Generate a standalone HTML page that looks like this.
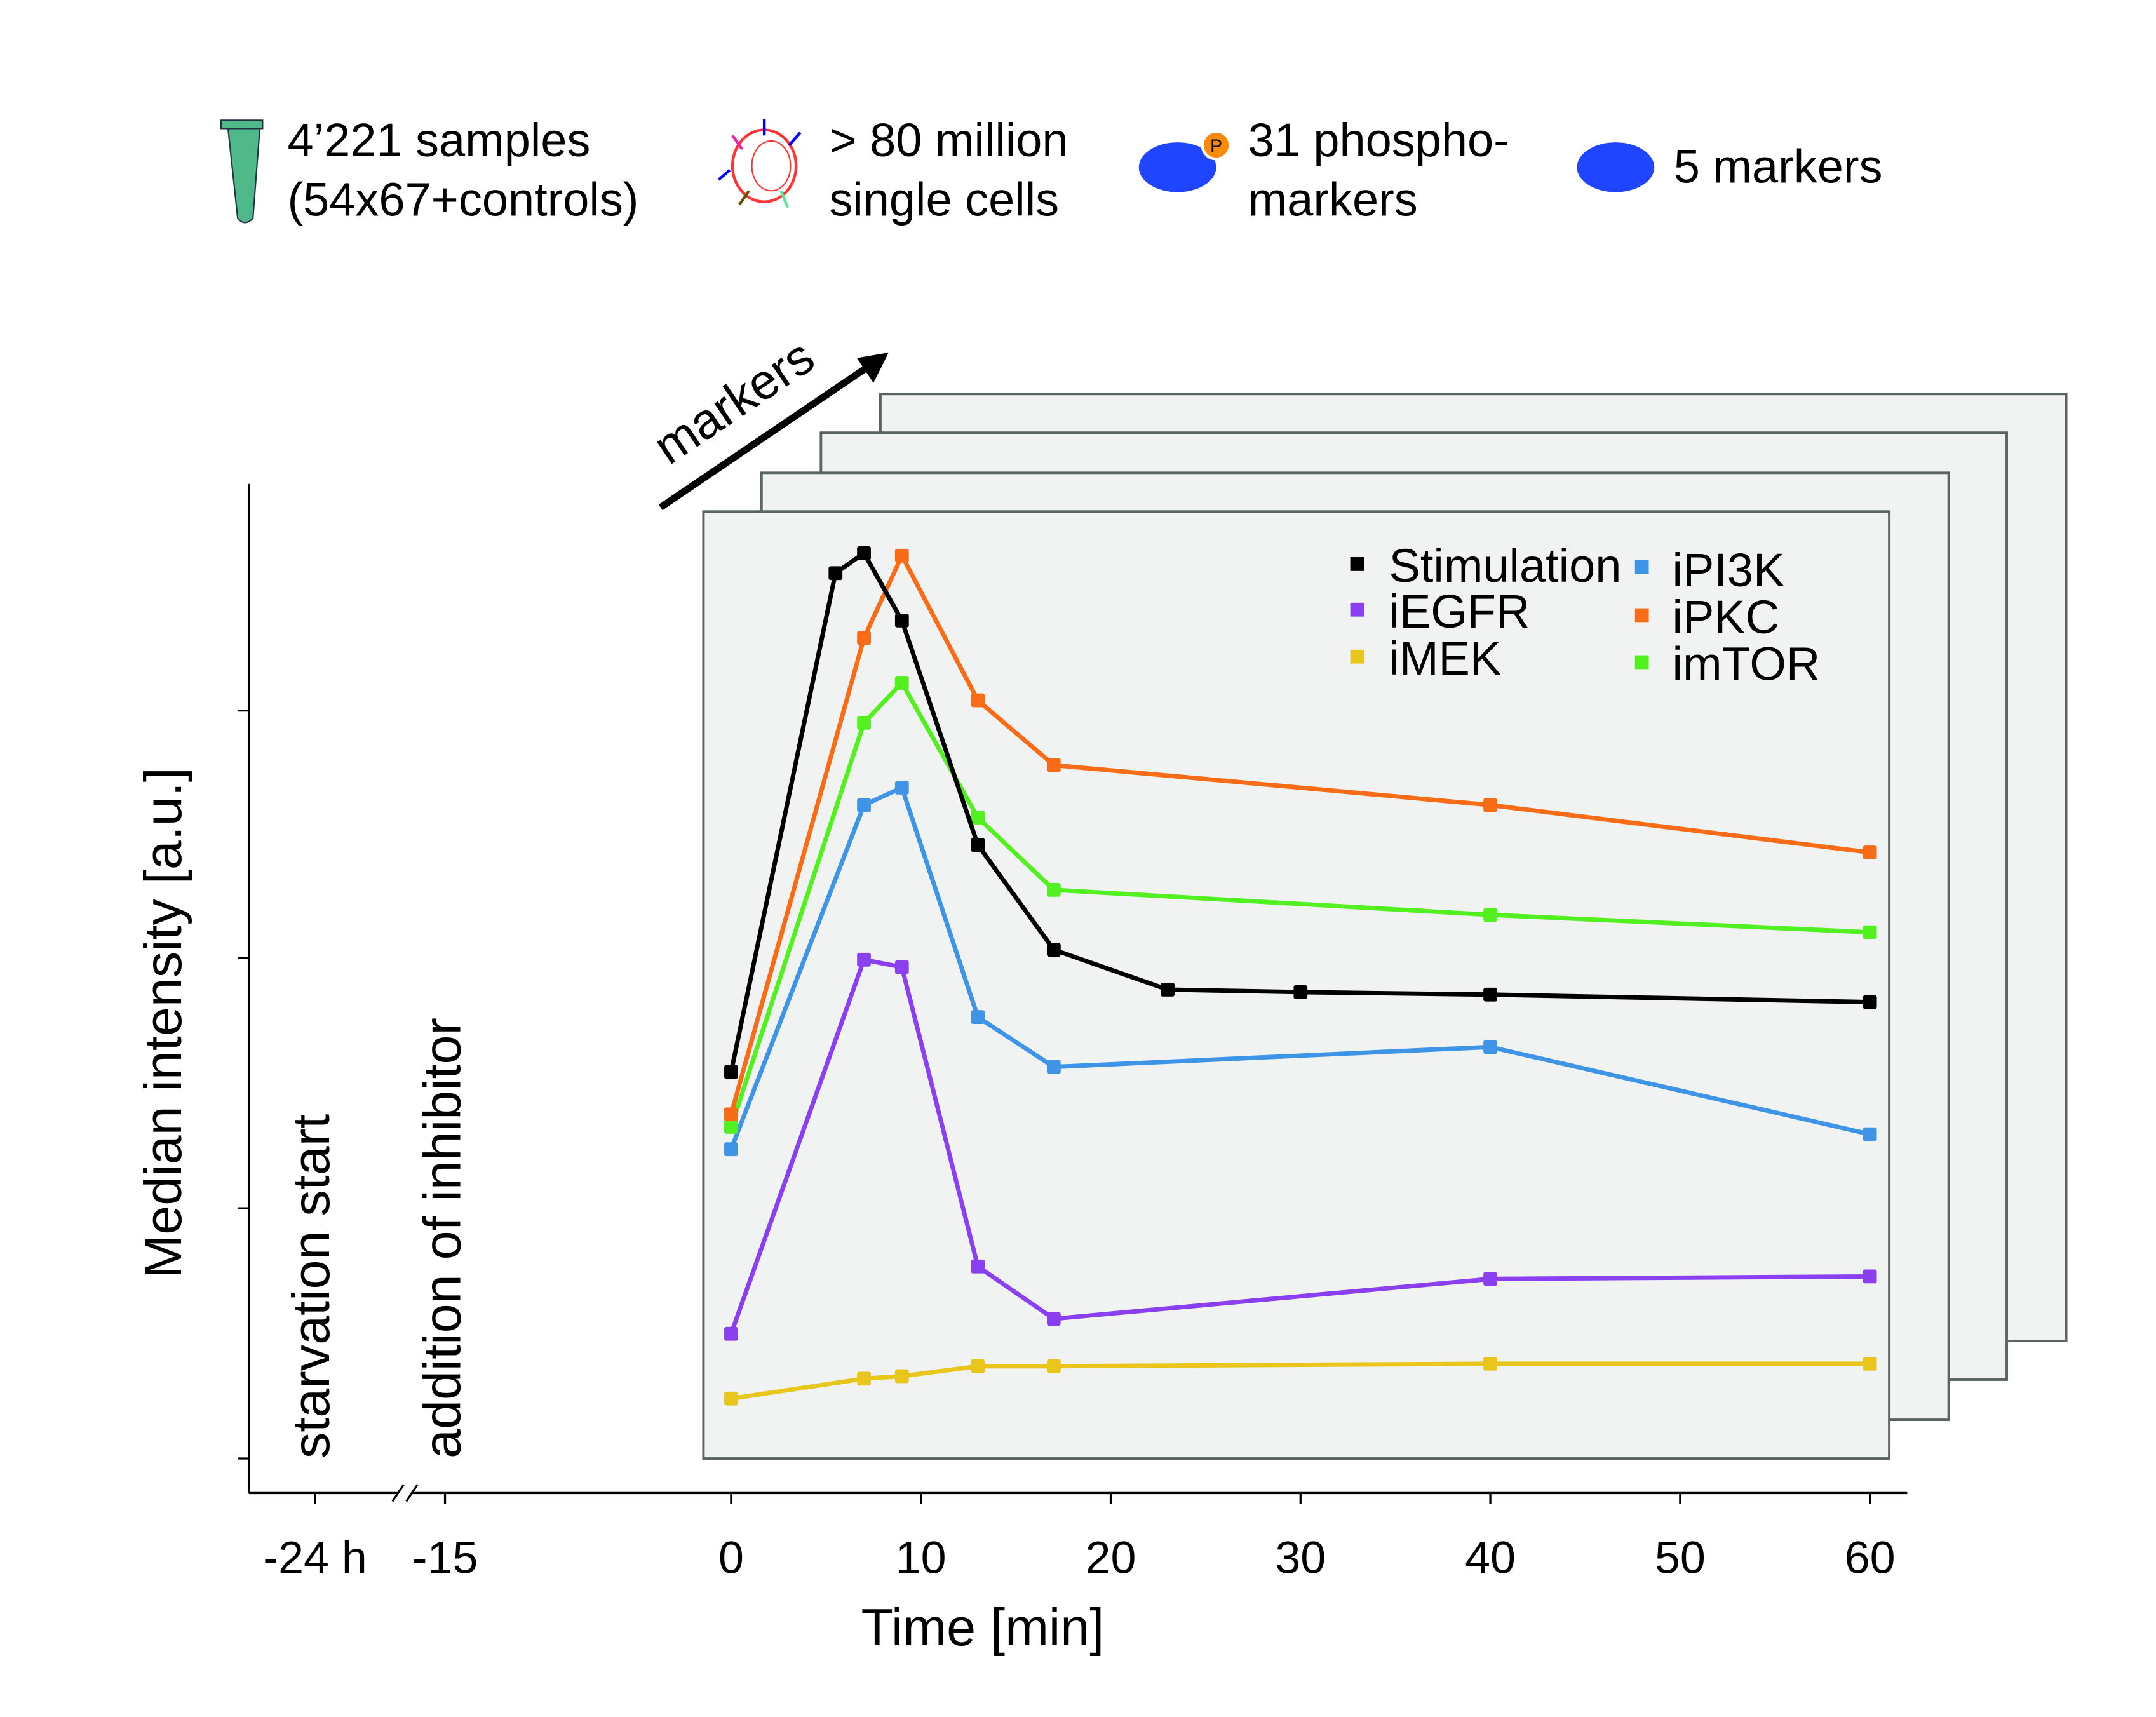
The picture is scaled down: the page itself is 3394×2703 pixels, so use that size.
<!DOCTYPE html>
<html><head><meta charset="utf-8"><style>html,body{margin:0;padding:0;background:#fff}svg{display:block}text{font-family:"Liberation Sans",sans-serif;fill:#000}</style></head>
<body>
<svg width="3394" height="2703" viewBox="0 0 1560 1242" preserveAspectRatio="none">
<g>
 <g><rect x="160" y="87" width="30" height="6" fill="#4fb98a" stroke="#234" stroke-width="1"/><path d="M165 93 L188 93 L183 158 Q177 164 172 158 Z" fill="#4fb98a" stroke="#234" stroke-width="1"/></g>
 <text x="208" y="113" font-size="34">4’221 samples</text>
 <text x="208" y="156" font-size="34">(54x67+controls)</text>
 <g><ellipse cx="553" cy="120" rx="23" ry="26" fill="none" stroke="#f33" stroke-width="2"/><ellipse cx="558" cy="120" rx="14" ry="18" fill="none" stroke="#f33" stroke-width="1"/><line x1="553" y1="86" x2="553" y2="98" stroke="#00f" stroke-width="2"/><line x1="530" y1="98" x2="537" y2="108" stroke="#e2a" stroke-width="2"/><line x1="571" y1="105" x2="579" y2="96" stroke="#00f" stroke-width="2"/><line x1="520" y1="130" x2="528" y2="123" stroke="#00f" stroke-width="2"/><line x1="535" y1="148" x2="542" y2="138" stroke="#650" stroke-width="2"/><line x1="565" y1="138" x2="570" y2="150" stroke="#5e9" stroke-width="2"/></g>
 <text x="600" y="113" font-size="34">&gt; 80 million</text>
 <text x="600" y="156" font-size="34">single cells</text>
 <ellipse cx="852" cy="121" rx="28" ry="18" fill="#1f45ff"/>
 <circle cx="880" cy="105" r="10" fill="#f98a0c" stroke="#fff" stroke-width="2"/>
 <text x="880" y="110" font-size="13" text-anchor="middle">P</text>
 <text x="903" y="113" font-size="34">31 phospho-</text>
 <text x="903" y="156" font-size="34">markers</text>
 <ellipse cx="1169" cy="121" rx="28" ry="18" fill="#1f45ff"/>
 <text x="1211" y="132" font-size="34">5 markers</text>
</g>
<g>
 <line x1="478" y1="367" x2="630" y2="264" stroke="#000" stroke-width="5"/>
 <polygon points="643,255 620,259 632,277" fill="#000"/>
 <text x="0" y="0" font-size="36" transform="translate(484,337) rotate(-34)">markers</text>
</g>
<g fill="#f0f3f2" stroke="#5a6461" stroke-width="1.8">
 <rect x="637" y="285" width="858" height="685"/>
 <rect x="594" y="313" width="858" height="685"/>
 <rect x="551" y="342" width="859" height="685"/>
 <rect x="509" y="370" width="858" height="685"/>
</g>
<g stroke="#000" stroke-width="1.5" fill="none">
 <line x1="180" y1="350" x2="180" y2="1080"/>
 <line x1="172" y1="514" x2="180" y2="514"/><line x1="172" y1="693" x2="180" y2="693"/><line x1="172" y1="874" x2="180" y2="874"/><line x1="172" y1="1055" x2="180" y2="1055"/>
 <line x1="180" y1="1080" x2="288" y2="1080"/>
 <line x1="298" y1="1080" x2="1380" y2="1080"/>
 <line x1="284" y1="1086" x2="292" y2="1074"/><line x1="294" y1="1086" x2="302" y2="1074"/>
 <line x1="228" y1="1080" x2="228" y2="1088"/><line x1="322" y1="1080" x2="322" y2="1088"/>
</g>
<g id="xticks"></g>
<text x="228" y="1138" font-size="33" text-anchor="middle">-24 h</text>
<text x="322" y="1138" font-size="33" text-anchor="middle">-15</text>
<text x="711" y="1190" font-size="38" text-anchor="middle">Time [min]</text>
<text transform="translate(131,740) rotate(-90)" font-size="38" text-anchor="middle">Median intensity [a.u.]</text>
<text transform="translate(238,1055) rotate(-90)" font-size="38">starvation start</text>
<text transform="translate(333,1055) rotate(-90)" font-size="38">addition of inhibitor</text>
<g id="series"></g>
<g>
 <rect x="977" y="403" width="10" height="10" fill="#000"/><text x="1005" y="421" font-size="34">Stimulation</text>
 <rect x="977" y="436" width="10" height="10" fill="#8a3ff0"/><text x="1005" y="454" font-size="34">iEGFR</text>
 <rect x="977" y="470" width="10" height="10" fill="#e8c61c"/><text x="1005" y="488" font-size="34">iMEK</text>
 <rect x="1183" y="405" width="10" height="10" fill="#3f94e6"/><text x="1210" y="424" font-size="34">iPI3K</text>
 <rect x="1183" y="440" width="10" height="10" fill="#f86c18"/><text x="1210" y="458" font-size="34">iPKC</text>
 <rect x="1183" y="474" width="10" height="10" fill="#52f020"/><text x="1210" y="492" font-size="34">imTOR</text>
</g>
</svg>
<script>
const xTickValues=[0,10,20,30,40,50,60];
const stimTimes=[0,5.5,7,9,13,17,23,30,40,60];
const stimValues=[1.55,3.55,3.63,3.36,2.46,2.04,1.88,1.87,1.86,1.83];
const inhTimes=[0,7,9,13,17,40,60];
const ipkcValues=[1.38,3.29,3.62,3.04,2.78,2.62,2.43];
const imtorValues=[1.33,2.95,3.11,2.57,2.28,2.18,2.11];
const ipi3kValues=[1.24,2.62,2.69,1.77,1.57,1.65,1.30];
const iegfrValues=[0.50,2.00,1.97,0.77,0.56,0.72,0.73];
const imekValues=[0.24,0.32,0.33,0.37,0.37,0.38,0.38];
const NS='http://www.w3.org/2000/svg';
const xs=t=>529+t*(1353-529)/60;
const ys=v=>1055-v*180.4;
const tg=document.getElementById('xticks');
xTickValues.forEach(t=>{
 const l=document.createElementNS(NS,'line');
 l.setAttribute('x1',xs(t));l.setAttribute('x2',xs(t));l.setAttribute('y1',1080);l.setAttribute('y2',1088);
 l.setAttribute('stroke','#000');l.setAttribute('stroke-width','1.5');
 
 
 tg.appendChild(l);
 const tx=document.createElementNS(NS,'text');
 tx.setAttribute('x',xs(t));tx.setAttribute('y',1138);tx.setAttribute('font-size','33');tx.setAttribute('text-anchor','middle');
 tx.textContent=t;
 
 
 tg.appendChild(tx);
});
const sg=document.getElementById('series');
function draw(name,times,vals,color){
 const g=document.createElementNS(NS,'g');
 
 
 const p=document.createElementNS(NS,'polyline');
 p.setAttribute('points',times.map((t,i)=>xs(t)+','+ys(vals[i])).join(' '));
 p.setAttribute('fill','none');p.setAttribute('stroke',color);p.setAttribute('stroke-width','3.2');p.setAttribute('stroke-linejoin','round');
 
 
 g.appendChild(p);
 times.forEach((t,i)=>{
  const r=document.createElementNS(NS,'rect');
  r.setAttribute('x',xs(t)-5);r.setAttribute('y',ys(vals[i])-5);r.setAttribute('width',10);r.setAttribute('height',10);r.setAttribute('rx',1.5);
  r.setAttribute('fill',color);
  
  
  g.appendChild(r);
 });
 sg.appendChild(g);
}
draw('imek-series',inhTimes,imekValues,'#e8c61c');
draw('iegfr-series',inhTimes,iegfrValues,'#8a3ff0');
draw('ipi3k-series',inhTimes,ipi3kValues,'#3f94e6');
draw('imtor-series',inhTimes,imtorValues,'#52f020');
draw('ipkc-series',inhTimes,ipkcValues,'#f86c18');
draw('stimulation-series',stimTimes,stimValues,'#000');
</script>
</body></html>
